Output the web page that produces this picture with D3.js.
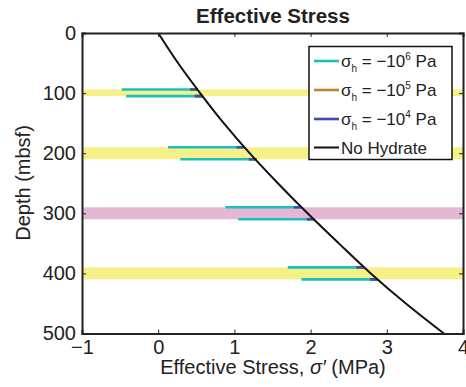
<!DOCTYPE html>
<html>
<head>
<meta charset="utf-8">
<script src="https://cdn.jsdelivr.net/npm/d3@7"></script>
<style>
  html, body { margin: 0; padding: 0; background: #fff; }
  svg { display: block; font-family: "Liberation Sans", Arial, Helvetica, sans-serif; }
</style>
</head>
<body>
<svg id="chart" width="466" height="387"></svg>
<script>
// Effective stress profile (no hydrate), MPa vs depth (mbsf)
const profileDepth  = [0, 50, 100, 150, 200, 250, 300, 350, 400, 450, 500];
const profileStress = [0, 0.26, 0.55, 0.86, 1.20, 1.57, 1.96, 2.37, 2.79, 3.25, 3.75];

// Hydrate layers: top/bottom depth and band colour
const layerTop    = [94, 190, 290, 390];
const layerBottom = [105, 210, 310, 410];
const layerFill   = ["#f5f088", "#f5f088", "#e4b7d4", "#f5f088"];

// Effective stress at the layer edges (right end of each segment)
const edgeStressTop    = [0.52, 1.13, 1.88, 2.70];
const edgeStressBottom = [0.58, 1.29, 2.05, 2.88];

// Stress reduction drawn for each hydrate pressure case (MPa)
const seriesNames  = ["\u03c3h = \u221210^6 Pa", "\u03c3h = \u221210^5 Pa", "\u03c3h = \u221210^4 Pa", "No Hydrate"];
const seriesExp    = ["6", "5", "4"];
const seriesShift  = [1.0, 0.1, 0.1];
const seriesColor  = ["#1bbfbf", "#b8862e", "#3c4fa6", "#111111"];

const xTicks = [-1, 0, 1, 2, 3, 4];
const yTicks = [0, 100, 200, 300, 400, 500];

const svg = d3.select("#chart");
const plotL = 82, plotR = 463, plotT = 33, plotB = 333.5;

const x = d3.scaleLinear().domain([-1, 4]).range([plotL, plotR]);
const y = d3.scaleLinear().domain([0, 500]).range([plotT, plotB]);

const plot = svg.append("g");
plot.append("clipPath").attr("id", "clip")
  .append("rect").attr("x", plotL).attr("y", plotT)
  .attr("width", plotR - plotL).attr("height", plotB - plotT);

// hydrate bands
plot.append("g").selectAll("rect").data(layerTop).join("rect")
  .attr("x", plotL).attr("width", plotR - plotL)
  .attr("y", (d) => y(d))
  .attr("height", (d, i) => y(layerBottom[i]) - y(d))
  .attr("fill", (d, i) => layerFill[i]);

// segments for each hydrate case
const segs = plot.append("g").attr("clip-path", "url(#clip)");
[0, 1, 2].forEach((s) => {
  layerTop.forEach((d, i) => {
    [[d, edgeStressTop[i]], [layerBottom[i], edgeStressBottom[i]]].forEach(([dep, st]) => {
      segs.append("line")
        .attr("x1", x(st - seriesShift[s])).attr("x2", x(st))
        .attr("y1", y(dep)).attr("y2", y(dep))
        .attr("stroke", seriesColor[s]).attr("stroke-width", 2.6);
    });
  });
});

// no-hydrate profile
const line = d3.line()
  .x((d, i) => x(profileStress[i]))
  .y((d) => y(d))
  .curve(d3.curveMonotoneY);
plot.append("path").datum(profileDepth)
  .attr("d", line).attr("fill", "none")
  .attr("stroke", "#111").attr("stroke-width", 2)
  .attr("clip-path", "url(#clip)");

// axes (ticks inward, mirrored on top/right)
const fmt = (d) => (d < 0 ? "\u2212" + Math.abs(d) : String(d));
const axB = svg.append("g").attr("transform", `translate(0,${plotB})`)
  .call(d3.axisBottom(x).tickValues(xTicks).tickSize(-4).tickPadding(6).tickFormat(fmt));
const axT = svg.append("g").attr("transform", `translate(0,${plotT})`)
  .call(d3.axisTop(x).tickValues(xTicks).tickSize(-4).tickFormat(""));
const axL = svg.append("g").attr("transform", `translate(${plotL},0)`)
  .call(d3.axisLeft(y).tickValues(yTicks).tickSize(-4).tickPadding(6).tickFormat(fmt));
const axR = svg.append("g").attr("transform", `translate(${plotR},0)`)
  .call(d3.axisRight(y).tickValues(yTicks).tickSize(-4).tickFormat(""));
[axB, axT, axL, axR].forEach((a) => {
  a.select(".domain").attr("stroke", "#222").attr("stroke-width", 2);
  a.selectAll(".tick line").attr("stroke", "#222").attr("stroke-width", 1);
  a.selectAll("text").attr("font-size", 20).attr("fill", "#222")
    .attr("font-family", "Liberation Sans, Arial, sans-serif");
});

// title and axis labels
svg.append("text").attr("x", 273).attr("y", 23).attr("text-anchor", "middle")
  .attr("font-size", 20.5).attr("font-weight", "bold").attr("fill", "#222")
  .text("Effective Stress");

const xl = svg.append("text").attr("x", 273).attr("y", 374).attr("text-anchor", "middle")
  .attr("font-size", 20).attr("fill", "#222");
xl.append("tspan").text("Effective Stress, ");
xl.append("tspan").attr("font-style", "italic").text("\u03c3\u2032");
xl.append("tspan").text(" (MPa)");

svg.append("text").attr("transform", `translate(30,183) rotate(-90)`)
  .attr("text-anchor", "middle").attr("font-size", 20).attr("fill", "#222")
  .text("Depth (mbsf)");

// legend
const lg = svg.append("g");
lg.append("rect").attr("x", 309).attr("y", 46.5).attr("width", 143).attr("height", 113)
  .attr("fill", "#fff").attr("stroke", "#111").attr("stroke-width", 1.5);
const rowY = [61, 90, 119, 147.5];
seriesNames.forEach((name, i) => {
  lg.append("line").attr("x1", 314).attr("x2", 339).attr("y1", rowY[i]).attr("y2", rowY[i])
    .attr("stroke", seriesColor[i]).attr("stroke-width", i === 3 ? 2 : 2.6);
  const t = lg.append("text").attr("x", 341).attr("y", rowY[i] + 6)
    .attr("font-size", 17).attr("fill", "#222");
  if (i < 3) {
    t.append("tspan").text("\u03c3");
    t.append("tspan").attr("font-size", 10).attr("dy", 5).text("h");
    t.append("tspan").attr("dy", -5).text(" = \u221210");
    t.append("tspan").attr("font-size", 10).attr("dy", -7).text(seriesExp[i]);
    t.append("tspan").attr("dy", 7).text(" Pa");
  } else {
    t.text(name);
  }
});
</script>
</body>
</html>
